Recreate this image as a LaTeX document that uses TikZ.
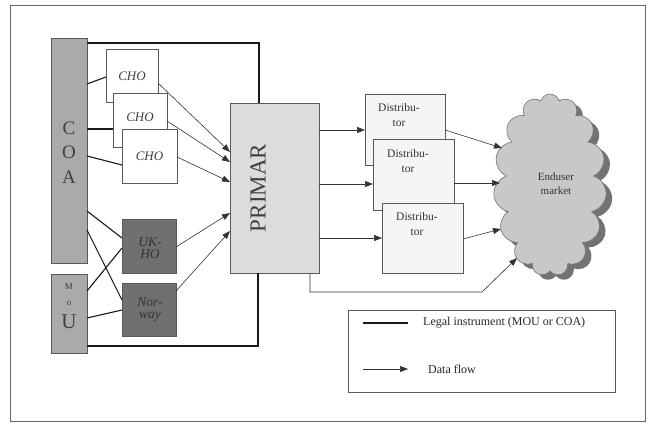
\documentclass[tikz,border=0pt]{standalone}
\usepackage{fontspec}
\setmainfont{Liberation Serif}
\usetikzlibrary{arrows.meta,shapes.symbols}
\definecolor{coafill}{RGB}{170,170,170}
\definecolor{hofill}{RGB}{112,112,112}
\definecolor{primarfill}{RGB}{220,220,220}
\definecolor{distfill}{RGB}{245,245,245}
\definecolor{cloudfill}{RGB}{200,200,200}
\definecolor{cloudshade}{RGB}{115,115,115}
\begin{document}
\begin{tikzpicture}[x=1pt,y=-1pt,
  box/.style={draw=black!65, line width=0.7pt, inner sep=0pt, outer sep=0pt},
  legal/.style={draw=black!90, line width=1.1pt},
  flow/.style={draw=black!80, line width=0.6pt, -{Triangle[length=8pt,width=6pt]}},
  chot/.style={font=\fontsize{13}{14}\selectfont\itshape, text=black!75},
  hot/.style={font=\fontsize{13.5}{12}\selectfont\itshape, text=black!80, align=center},
  dist/.style={font=\fontsize{11.5}{15}\selectfont, text=black!80, align=center},
  cloudshape/.style={cloud, cloud puffs=15, cloud ignores aspect, minimum width=113, minimum height=182, inner sep=0pt, outer sep=0pt},
]
\useasboundingbox (0,0) rectangle (653,423);
\fill[white] (0,0) rectangle (653,423);
\node[draw=black!60, line width=0.8pt, minimum width=635, minimum height=416, inner sep=0pt, outer sep=0pt] (frame) at (327.5,213) {};

% main boxes (needed for anchors)
\node[box, fill=coafill, minimum width=36, minimum height=225] (coa) at (69,150.5) {};
\node[box, fill=coafill, minimum width=36, minimum height=79] (mou) at (69,313.5) {};
\node[box, fill=primarfill, minimum width=89, minimum height=170] (primar) at (274.5,188) {};

% legal instrument lines
\draw[legal] (coa.east |- 0,43) -| (primar.north -| 259,0);
\draw[legal] (mou.east |- 0,346) -| (primar.south -| 258,0);

% CHO boxes
\node[box, fill=white, minimum width=52, minimum height=53] (cho1) at (132,75.5) {};
\node[box, fill=white, minimum width=54, minimum height=54] (cho2) at (140,120) {};
\node[box, fill=white, minimum width=55, minimum height=54] (cho3) at (149.5,156) {};
\node[chot] (cho1t) at (132,76) {CHO};
\node[chot] (cho2t) at (140,117) {CHO};
\node[chot] (cho3t) at (149.5,156) {CHO};

% hydrographic offices
\node[box, fill=hofill, minimum width=54, minimum height=54] (ukho) at (149,246) {};
\node[box, fill=hofill, minimum width=54, minimum height=53] (norway) at (149,309.5) {};
\node[hot] (ukhot) at (150,248) {UK-\\HO};
\node[hot] (norwayt) at (150,310) {Nor-\\way};

\draw[legal] (coa.east |- 0,84) -- (cho1.west |- 0,77);
\draw[legal] (coa.east |- 0,129) -- (cho2.west |- 0,129);
\draw[legal] (coa.east |- 0,156) -- (cho3.west |- 0,165);
\draw[legal] (coa.east |- 0,211) -- (ukho.west |- 0,238);
\draw[legal] (coa.east |- 0,230) -- (norway.west |- 0,300);
\draw[legal] (mou.east |- 0,291) -- (ukho.west |- 0,248);
\draw[legal] (mou.east |- 0,318) -- (norway.west |- 0,310);

% texts on COA, MOU, PRIMAR
\node[font=\fontsize{19}{24.5}\selectfont, text=black!75, align=center] (coat) at (69,152.5) {C\\O\\A};
\node[font=\fontsize{9}{9}\selectfont, text=black!75] (moum) at (69,287) {M};
\node[font=\fontsize{9}{9}\selectfont, text=black!75] (mouo) at (69,303) {o};
\node[font=\fontsize{21}{21}\selectfont, text=black!75] (mouu) at (69,322) {U};
\node[font=\fontsize{23}{23}\selectfont, text=black!75, rotate=90] (primart) at (258,188) {PRIMAR};

% data flows to PRIMAR
\draw[flow] (cho1.east |- 0,83) -- (primar.west |- 0,152);
\draw[flow] (cho2.east |- 0,121) -- (primar.west |- 0,162);
\draw[flow] (cho3.east |- 0,157) -- (primar.west |- 0,182);
\draw[flow] (ukho.east |- 0,247) -- (primar.west |- 0,213);
\draw[flow] (norway.east |- 0,291) -- (primar.west |- 0,231);

% distributors
\node[box, fill=distfill, minimum width=80, minimum height=71] (d1) at (405,129.5) {};
\node[box, fill=distfill, minimum width=81, minimum height=71] (d2) at (413.5,174.5) {};
\node[box, fill=distfill, minimum width=81, minimum height=70] (d3) at (422.5,238) {};
\node[dist] (d1t) at (399,115.5) {Distribu-\\tor};
\node[dist] (d2t) at (408,161.5) {Distribu-\\tor};
\node[dist] (d3t) at (417,224.5) {Distribu-\\tor};

\draw[flow] (primar.east |- 0,130) -- (d1.west |- 0,130);
\draw[flow] (primar.east |- 0,184) -- (d2.west |- 0,184);
\draw[flow] (primar.east |- 0,238) -- (d3.west |- 0,238);

% cloud
\node[cloudshape, fill=cloudshade] (cloudsh) at (556,190) {};
\node[cloudshape, fill=cloudfill, draw=black!55, line width=0.6pt] (cloud) at (550,185) {};
\node[font=\fontsize{11}{14}\selectfont, text=black!80, align=center] (cloudt) at (556,184) {Enduser\\market};

\coordinate (e1) at (502,148);
\coordinate (e2) at (500,183);
\coordinate (e3) at (501,229);
\coordinate (e4) at (517,258);
\coordinate (bend) at (482,292);
\draw[flow] (d1.east |- 0,130) -- (e1);
\draw[flow] (d2.east |- 0,183) -- (e2);
\draw[flow] (d3.east |- 0,239) -- (e3);
\draw[flow] (primar.south -| 310,0) |- (bend) -- (e4);

% legend
\node[draw=black!65, line width=0.7pt, minimum width=267, minimum height=82, inner sep=0pt] (legend) at (481.5,351) {};
\coordinate (l1a) at (363,323);
\coordinate (l1b) at (408,323);
\coordinate (l2a) at (363,369);
\coordinate (l2b) at (408,369);
\draw[legal] (l1a) -- (l1b);
\draw[flow] (l2a) -- (l2b);
\node[anchor=west, font=\fontsize{12}{12}\selectfont, text=black!85, inner sep=0pt] (leg1) at (423,323) {Legal instrument (MOU or COA)};
\node[anchor=west, font=\fontsize{12}{12}\selectfont, text=black!85, inner sep=0pt] (leg2) at (428,369) {Data flow};
\end{tikzpicture}
\end{document}
